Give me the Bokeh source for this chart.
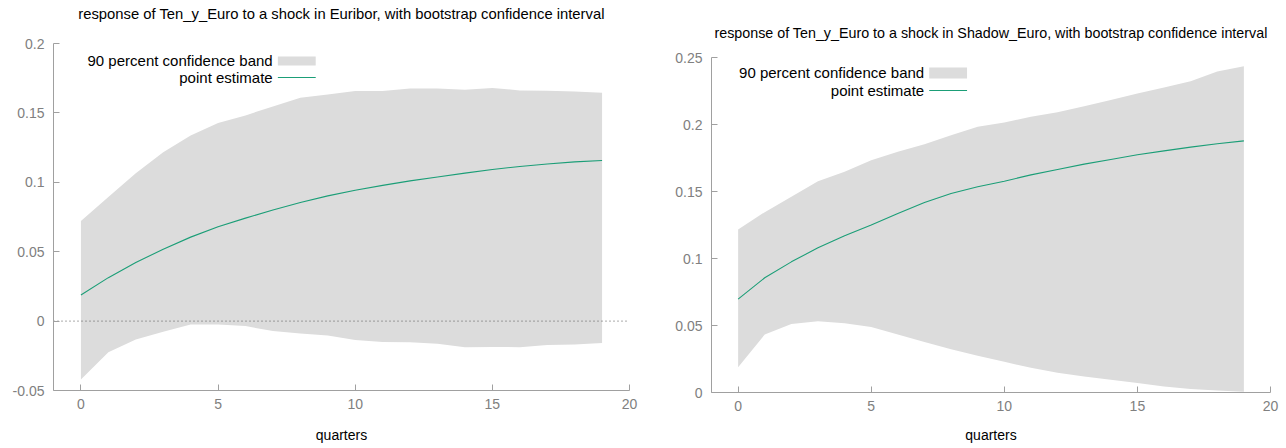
from bokeh.plotting import figure
from bokeh.layouts import row, column
from bokeh.models import FixedTicker, Label
from bokeh.embed import file_html
from bokeh.resources import INLINE

# ---------------- data ----------------
quarters = list(range(20))

euribor_point = [0.0188, 0.0313, 0.0422, 0.0518, 0.0605, 0.0680, 0.0742, 0.0800,
                 0.0855, 0.0902, 0.0943, 0.0978, 0.1010, 0.1038, 0.1066, 0.1092,
                 0.1114, 0.1132, 0.1147, 0.1157]
euribor_upper = [0.0722, 0.0894, 0.1065, 0.1217, 0.1337, 0.1427, 0.1482, 0.1547,
                 0.1610, 0.1632, 0.1658, 0.1658, 0.1675, 0.1675, 0.1667, 0.1680,
                 0.1662, 0.1660, 0.1655, 0.1645]
euribor_lower = [-0.0420, -0.0224, -0.0133, -0.0077, -0.0024, -0.0024, -0.0036, -0.0072,
                 -0.0089, -0.0104, -0.0137, -0.0150, -0.0152, -0.0164, -0.0188, -0.0186,
                 -0.0188, -0.0173, -0.0169, -0.0157]

shadow_point = [0.0697, 0.0856, 0.0975, 0.1080, 0.1170, 0.1250, 0.1336, 0.1418,
                0.1485, 0.1535, 0.1577, 0.1624, 0.1664, 0.1704, 0.1739, 0.1774,
                0.1803, 0.1831, 0.1856, 0.1878]
shadow_upper = [0.1216, 0.1346, 0.1460, 0.1577, 0.1647, 0.1734, 0.1796, 0.1853,
                0.1920, 0.1983, 0.2015, 0.2057, 0.2092, 0.2137, 0.2182, 0.2231,
                0.2276, 0.2323, 0.2395, 0.2435]
shadow_lower = [0.0189, 0.0433, 0.0512, 0.0532, 0.0517, 0.0488, 0.0433, 0.0376,
                0.0323, 0.0274, 0.0229, 0.0184, 0.0147, 0.0119, 0.0095, 0.0070,
                0.0045, 0.0027, 0.0015, 0.0005]

x_ticks = [0, 5, 10, 15, 20]
left_y_ticks = [-0.05, 0, 0.05, 0.1, 0.15, 0.2]
left_y_labels = ["-0.05", "0", "0.05", "0.1", "0.15", "0.2"]
right_y_ticks = [0, 0.05, 0.1, 0.15, 0.2, 0.25]
right_y_labels = ["0", "0.05", "0.1", "0.15", "0.2", "0.25"]

left_title = "response of Ten_y_Euro to a shock in Euribor, with bootstrap confidence interval"
right_title = "response of Ten_y_Euro to a shock in Shadow_Euro, with bootstrap confidence interval"
band_label = "90 percent confidence band"
line_label = "point estimate"
x_label = "quarters"

FONT = "Liberation Sans"
BAND = "#dcdcdc"
GREEN = "#1b9e77"
AXIS = "#a0a0a0"
TICKLAB = "#808080"
FIG_W, FIG_H = 643, 448


def make_panel(title, title_size, point, upper, lower, yticks, ylabels,
               borders, top_gap, title_gap, stand, leg):
    """borders: left/right/bottom px; top_gap: px from canvas top to the highest tick;
    title_gap: px from title centre to the highest tick."""
    bl, br, bb = borders
    y0, y1 = yticks[0], yticks[-1]
    frame_px = FIG_H - bb
    per_px = (y1 - y0) / (frame_px - top_gap)
    y_end = y1 + top_gap * per_px
    p = figure(width=FIG_W, height=FIG_H, output_backend="svg", toolbar_location=None,
               x_range=(-1, 20), y_range=(y0, y_end),
               min_border_left=bl, min_border_right=br,
               min_border_top=0, min_border_bottom=bb)
    p.title = None
    p.outline_line_color = None
    p.xgrid.visible = False
    p.ygrid.visible = False
    p.background_fill_color = "white"
    p.border_fill_color = "white"

    p.varea(x=quarters, y1=lower, y2=upper, fill_color=BAND)
    p.line(x=[-1, 20], y=[0, 0], line_color="#555555", line_dash="1 3", line_width=1)
    p.line(x=quarters, y=point, line_color=GREEN, line_width=1.1)

    for ax in (p.xaxis[0], p.yaxis[0]):
        ax.axis_line_color = AXIS
        ax.major_tick_line_color = AXIS
        ax.minor_tick_line_color = None
        ax.major_tick_in = 6
        ax.major_tick_out = 0
        ax.major_label_text_font = FONT
        ax.major_label_text_font_size = "14px"
        ax.major_label_text_color = TICKLAB
    p.yaxis.bounds = (y0, y1)
    p.yaxis.major_label_standoff = 9
    p.xaxis.major_label_standoff = stand[0]
    p.xaxis.ticker = FixedTicker(ticks=x_ticks)
    p.yaxis.ticker = FixedTicker(ticks=yticks)
    p.yaxis.major_label_overrides = {t: l for t, l in zip(yticks, ylabels)}
    p.xaxis.axis_label = x_label
    p.xaxis.axis_label_text_font = FONT
    p.xaxis.axis_label_text_font_size = "14px"
    p.xaxis.axis_label_text_font_style = "normal"
    p.xaxis.axis_label_text_color = "#000000"
    p.xaxis.axis_label_standoff = stand[1]

    # title, centred over the plotting area
    p.add_layout(Label(x=9.5, y=y1 + title_gap * per_px, text=title, text_align="center",
                       text_baseline="middle", text_font=FONT, text_font_size=title_size,
                       text_color="#000000"))

    # gnuplot-style key: text on the left, sample on the right
    tx, sx0, sx1, y_band, y_b0, y_b1, y_line = leg
    p.quad(left=[sx0], right=[sx1], bottom=[y_b0], top=[y_b1], fill_color=BAND, line_color=None)
    p.line(x=[sx0, sx1], y=[y_line, y_line], line_color=GREEN, line_width=1.1)
    for txt, yy in ((band_label, y_band), (line_label, y_line)):
        p.add_layout(Label(x=tx, y=yy, text=txt, text_align="right",
                           text_baseline="middle", text_font=FONT, text_font_size="15px",
                           text_color="#000000"))
    return p


left = make_panel(left_title, "14.8px", euribor_point, euribor_upper, euribor_lower,
                  left_y_ticks, left_y_labels,
                  (53, 14, 58), 43, 30, (8, 15),
                  (6.99, 7.18, 8.56, 0.1878, 0.1841, 0.1906, 0.1755))
right = make_panel(right_title, "14.3px", shadow_point, shadow_upper, shadow_lower,
                   right_y_ticks, right_y_labels,
                   (68, 16, 56), 57, 25, (8, 13),
                   (6.99, 7.18, 8.6, 0.2388, 0.2343, 0.2425, 0.2254))

layout = row(left, column(right, spacing=0), spacing=0)
open("out.html", "w").write(file_html(layout, INLINE))
